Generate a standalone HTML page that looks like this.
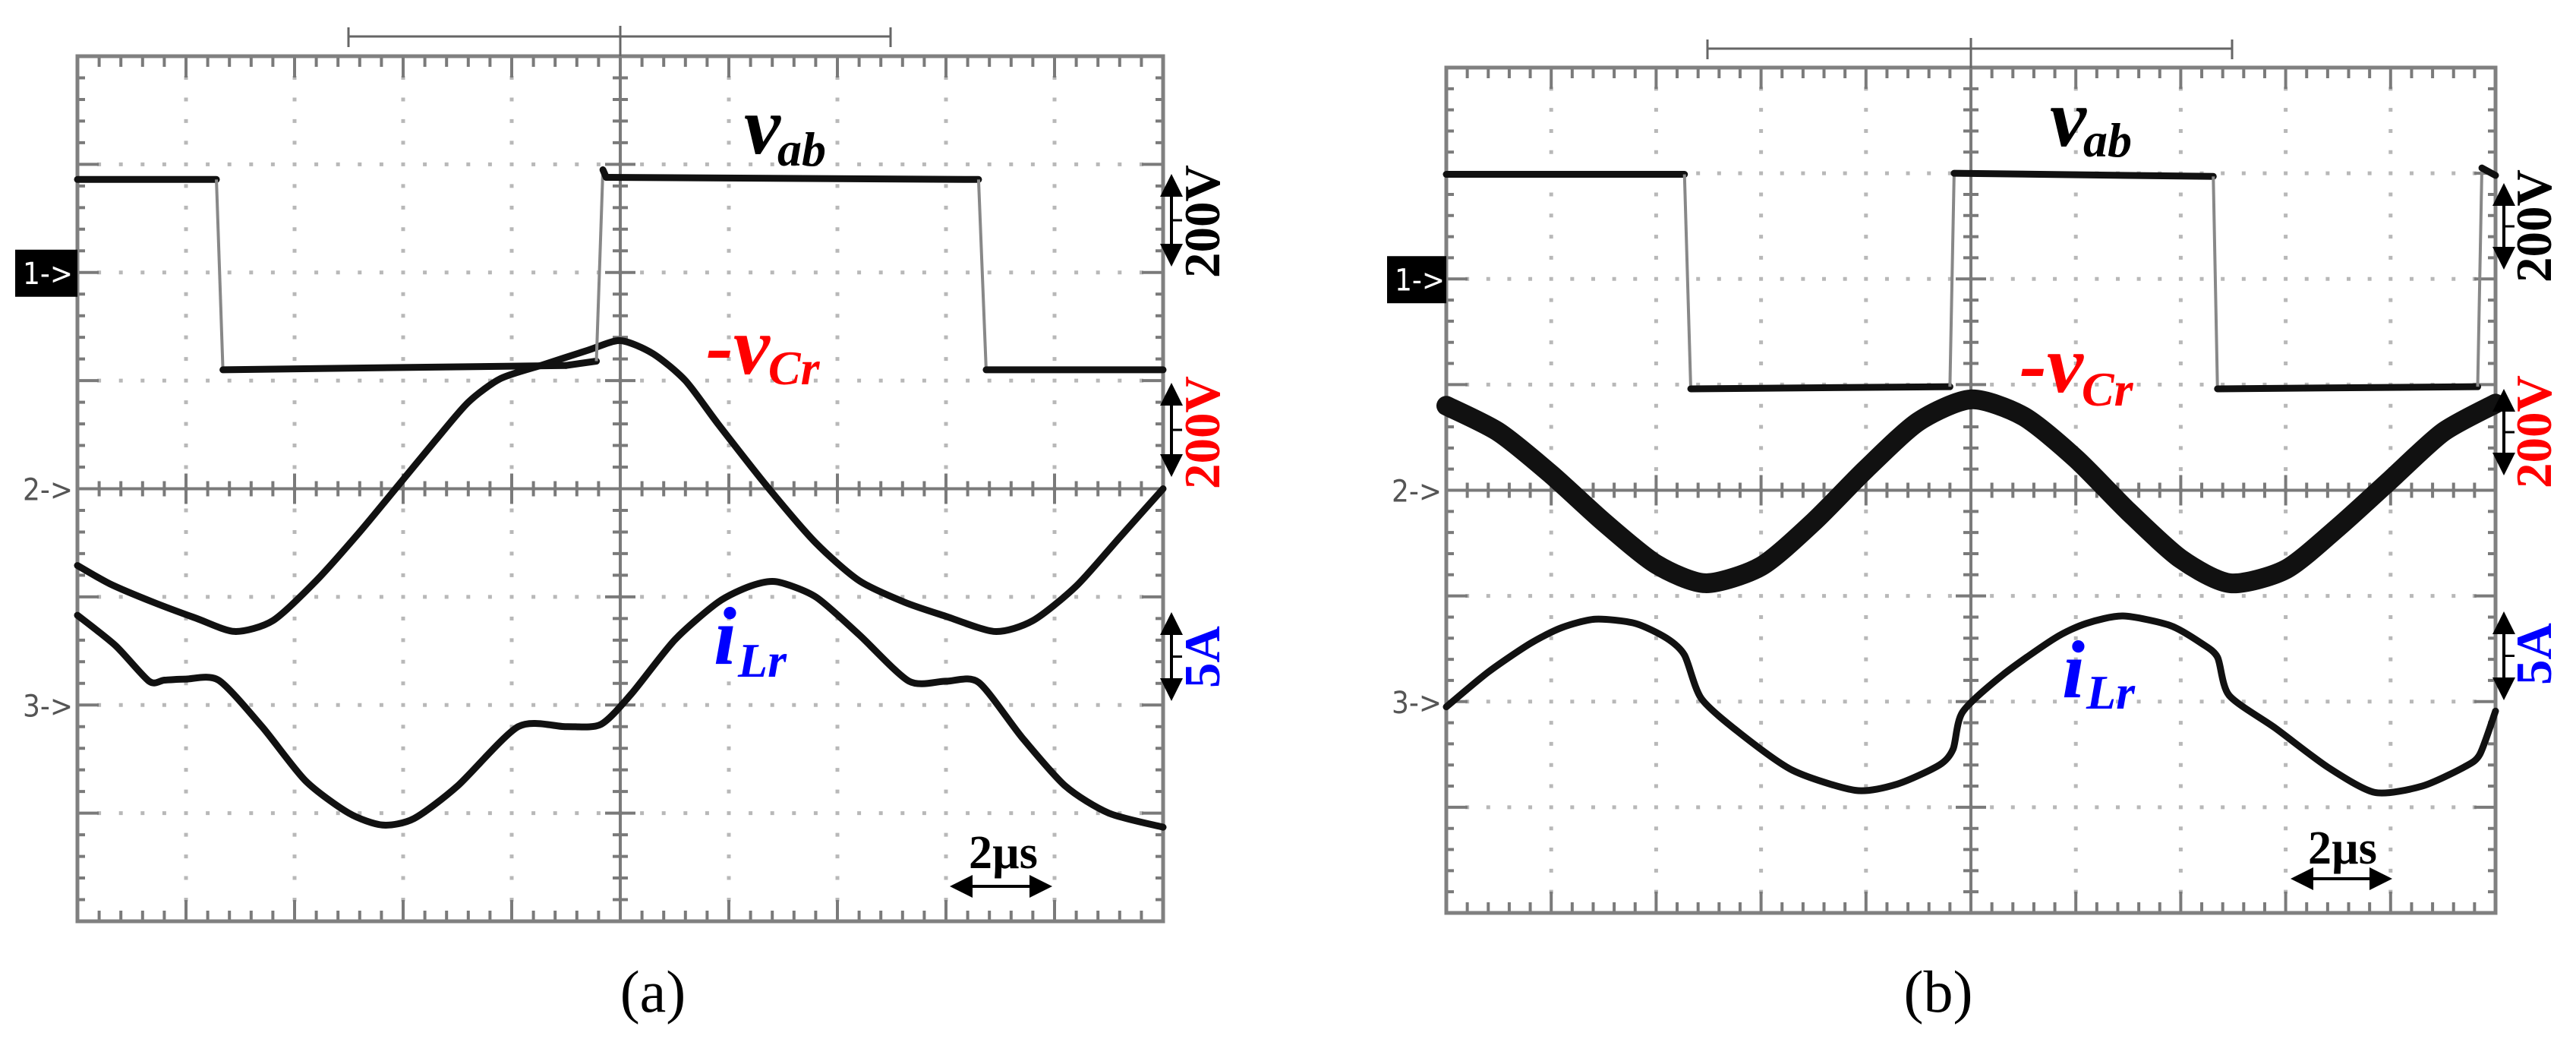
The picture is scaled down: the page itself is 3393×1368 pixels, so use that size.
<!DOCTYPE html>
<html><head><meta charset="utf-8"><style>
html,body{margin:0;padding:0;background:#fff;}
svg{display:block;}
</style></head><body>
<svg id="fig" xmlns="http://www.w3.org/2000/svg" width="3393" height="1368" viewBox="0 0 3393 1368">
<rect width="3393" height="1368" fill="#fff"/>
<g id="layer"></g>
</svg>
<script>
// ---- data (time in divisions 0..10, value in divisions from top 0..8) ----
const vabA_t = [0, 1.28, 1.34, 4.5, 4.78, 4.84, 4.87, 8.30, 8.37, 10];
const vabA_v = [1.14, 1.14, 2.90, 2.86, 2.82, 1.05, 1.12, 1.14, 2.90, 2.90];
const vcrA_t = [0,0.3,0.7,1.1,1.45,1.8,2.2,2.6,2.93,3.3,3.6,3.9,4.3,4.7,5.0,5.3,5.6,5.9,6.37,6.8,7.2,7.62,8.0,8.45,8.8,9.2,9.6,10];
const vcrA_v = [4.71,4.88,5.05,5.2,5.32,5.22,4.85,4.4,4.0,3.55,3.2,2.98,2.85,2.72,2.63,2.75,3.0,3.4,4.0,4.5,4.85,5.05,5.18,5.32,5.22,4.9,4.45,4.0];
const iLrA_t = [0,0.35,0.66,0.8,1.0,1.3,1.7,2.1,2.5,2.81,3.1,3.5,4.06,4.5,4.82,5.1,5.5,5.9,6.2,6.44,6.8,7.2,7.66,8.0,8.3,8.7,9.1,9.5,10];
const iLrA_v = [5.17,5.45,5.78,5.77,5.76,5.77,6.2,6.7,7.0,7.11,7.05,6.75,6.2,6.2,6.18,5.9,5.4,5.05,4.9,4.86,5.0,5.35,5.78,5.78,5.79,6.3,6.75,7.0,7.13];

const vabB_t = [0, 2.27, 2.33, 4.80, 4.84, 7.31, 7.35, 9.83, 9.87, 10];
const vabB_v = [1.01, 1.01, 3.04, 3.02, 1.0, 1.03, 3.04, 3.02, 0.95, 1.02];
const vcrB_t = [0,0.5,1.0,1.5,2.0,2.47,3.0,3.5,4.0,4.5,5.0,5.5,6.0,6.5,7.0,7.47,8.0,8.5,9.0,9.5,10];
const vcrB_v = [3.2,3.45,3.85,4.3,4.7,4.88,4.72,4.3,3.8,3.35,3.14,3.3,3.7,4.2,4.65,4.88,4.75,4.35,3.9,3.45,3.18];
const iLrB_t = [0,0.4,0.8,1.1,1.42,1.8,2.1,2.27,2.43,2.8,3.3,3.9,4.3,4.7,4.83,4.92,5.3,5.8,6.1,6.45,6.9,7.2,7.35,7.46,7.9,8.4,8.85,9.3,9.7,9.85,10];
const iLrB_v = [6.05,5.72,5.45,5.3,5.22,5.26,5.4,5.56,5.97,6.3,6.65,6.84,6.78,6.6,6.45,6.1,5.75,5.4,5.26,5.19,5.28,5.45,5.58,5.94,6.25,6.62,6.86,6.8,6.62,6.5,6.09];

// ---- geometry ----
const A = {x0:102, x1:1532, y0:74, y1:1213};
const B = {x0:1905, x1:3287, y0:89, y1:1202};
const NS = 'http://www.w3.org/2000/svg';
const layer = document.getElementById('layer');
function sx(p,t){return p.x0 + t*(p.x1-p.x0)/10;}
function sy(p,v){return p.y0 + v*(p.y1-p.y0)/8;}
function mk(tag, attrs, parent){const e=document.createElementNS(NS,tag);for(const k in attrs)e.setAttribute(k,attrs[k]);(parent||layer).appendChild(e);return e;}

function grid(p, nm){
  const g = mk('g',{});
  
  
  const dx=(p.x1-p.x0)/10, dy=(p.y1-p.y0)/8;
  let d='';
  for(let i=1;i<10;i++){ if(i===5)continue; const x=p.x0+i*dx;
    for(let k=1;k<40;k++){ const y=p.y0+k*dy/5; d+=`M${x-2.5},${y-2.5}h5v5h-5z`; } }
  for(let j=1;j<8;j++){ if(j===4)continue; const y=p.y0+j*dy;
    for(let k=1;k<50;k++){ const x=p.x0+k*dx/5; d+=`M${x-2.5},${y-2.5}h5v5h-5z`; } }
  mk('path',{d:d,fill:'#b8b8b8'},g);
  let t='';
  for(let k=1;k<50;k++){ const x=p.x0+k*dx/5; const L=(k%5===0)?28:14;
    t+=`M${x},${p.y0}v${L}M${x},${p.y1}v${-L}`; }
  for(let k=1;k<40;k++){ const y=p.y0+k*dy/5; const L=(k%5===0)?28:10;
    t+=`M${p.x0},${y}h${L}M${p.x1},${y}h${-L}`; }
  const cx=p.x0+5*dx, cy=p.y0+4*dy;
  for(let k=1;k<50;k++){ const x=p.x0+k*dx/5; const L=(k%5===0)?20:10; t+=`M${x},${cy-L}v${2*L}`; }
  for(let k=1;k<40;k++){ const y=p.y0+k*dy/5; const L=(k%5===0)?20:10; t+=`M${cx-L},${y}h${2*L}`; }
  t+=`M${cx},${p.y0}V${p.y1}M${p.x0},${cy}H${p.x1}`;
  mk('path',{d:t,stroke:'#7a7a7a','stroke-width':4,fill:'none'},g);
  mk('rect',{x:p.x0,y:p.y0,width:p.x1-p.x0,height:p.y1-p.y0,fill:'none',stroke:'#808080','stroke-width':5},g);
}

function smoothPath(p, ts, vs){
  const pts=ts.map((t,i)=>[sx(p,t),sy(p,vs[i])]);
  let d=`M${pts[0][0]},${pts[0][1]}`;
  for(let i=0;i<pts.length-1;i++){
    const p0=pts[Math.max(0,i-1)],p1=pts[i],p2=pts[i+1],p3=pts[Math.min(pts.length-1,i+2)];
    const c1=[p1[0]+(p2[0]-p0[0])/8,p1[1]+(p2[1]-p0[1])/8];
    const c2=[p2[0]-(p3[0]-p1[0])/8,p2[1]-(p3[1]-p1[1])/8];
    d+=`C${c1[0]},${c1[1]} ${c2[0]},${c2[1]} ${p2[0]},${p2[1]}`;
  }
  return d;
}
function smoothTrace(p, ts, vs, w, nm){
  const e=mk('path',{d:smoothPath(p,ts,vs),stroke:'#111',"stroke-width":w,fill:'none','stroke-linejoin':'round','stroke-linecap':'round'});
  
  
}
function squareTrace(p, ts, vs, nm){
  const g=mk('g',{});
  
  
  for(let i=0;i<ts.length-1;i++){
    const x1=sx(p,ts[i]),y1=sy(p,vs[i]),x2=sx(p,ts[i+1]),y2=sy(p,vs[i+1]);
    const steep=Math.abs(ts[i+1]-ts[i])<0.1 && Math.abs(vs[i+1]-vs[i])>0.5;
    mk('line',{x1:x1,y1:y1,x2:x2,y2:y2,stroke:steep?'#888':'#111','stroke-width':steep?4:9,'stroke-linecap':steep?'butt':'round'},g);
  }
}
function txt(x,y,s,attrs,nm){
  const e=mk('text',Object.assign({x:x,y:y},attrs));
  e.textContent=s;
  
  
  return e;
}
function label(x,y,main,sub,subdx,subdy,color,nm){
  const e=mk('text',{x:x,y:y,fill:color,'font-family':'"Liberation Serif", serif','font-weight':'bold','font-style':'italic','font-size':108});
  
  
  const t1=mk('tspan',{},e); t1.textContent=main;
  const t2=mk('tspan',{dx:subdx,dy:subdy,'font-size':64},e); t2.textContent=sub;
}
function vArrow(x,ya,yb,nm){
  const g=mk('g',{});
  
  
  mk('line',{x1:x,y1:ya+24,x2:x,y2:yb-24,stroke:'#000','stroke-width':4},g);
  mk('path',{d:`M${x},${ya}L${x-15},${ya+30}L${x+15},${ya+30}Z M${x},${yb}L${x-15},${yb-30}L${x+15},${yb-30}Z`,fill:'#000'},g);
  mk('line',{x1:x,y1:(ya+yb)/2,x2:x+14,y2:(ya+yb)/2,stroke:'#000','stroke-width':3},g);
}
function hArrow(xa,xb,y,nm){
  const g=mk('g',{});
  
  
  mk('line',{x1:xa+24,y1:y,x2:xb-24,y2:y,stroke:'#000','stroke-width':4},g);
  mk('path',{d:`M${xa},${y}L${xa+30},${y-15}L${xa+30},${y+15}Z M${xb},${y}L${xb-30},${y-15}L${xb-30},${y+15}Z`,fill:'#000'},g);
}
function rotText(x,yBottom,s,color,nm){
  txt(x,yBottom,s,{fill:color,'font-family':'"Liberation Serif", serif','font-weight':'bold','font-size':67,transform:`rotate(-90 ${x} ${yBottom})`},nm);
}
function bracket(xa,xb,xc,y,nm){
  const g=mk('g',{});
  
  
  mk('path',{d:`M${xa},${y-12}V${y+14}M${xa},${y}H${xb}M${xb},${y-12}V${y+14}M${xc},${y-14}V${y+26}`,stroke:'#666','stroke-width':3,fill:'none'},g);
}
function chMarks(p, nm, boxX){
  const dy=(p.y1-p.y0)/8;
  const y1=p.y0+2*dy;
  const r=mk('rect',{x:boxX,y:y1-30,width:p.x0-boxX,height:62,fill:'#000'});
  
  
  txt(boxX+10,y1+15,'1->',{fill:'#fff','font-family':'"DejaVu Sans Condensed","DejaVu Sans",sans-serif','font-size':40},nm+'-ch1-label');
  txt(p.x0-72,p.y0+4*dy+15,'2->',{fill:'#555','font-family':'"DejaVu Sans Condensed","DejaVu Sans",sans-serif','font-size':40},nm+'-ch2-marker');
  txt(p.x0-72,p.y0+6*dy+15,'3->',{fill:'#555','font-family':'"DejaVu Sans Condensed","DejaVu Sans",sans-serif','font-size':40},nm+'-ch3-marker');
}

// ---- panel a ----
grid(A,'panel-a');
bracket(459,1173,817,48,'panel-a-trigger-bracket');
chMarks(A,'panel-a',20);
smoothTrace(A,vcrA_t,vcrA_v,9,'panel-a-vcr-trace');
smoothTrace(A,iLrA_t,iLrA_v,9,'panel-a-ilr-trace');
squareTrace(A,vabA_t,vabA_v,'panel-a-vab-trace');
label(980,202,'v','ab',-4,16,'#000','panel-a-vab-label');
label(930,492,'-v','Cr',-2,14,'#f00','panel-a-vcr-label');
label(940,874,'i','Lr',2,17,'#00f','panel-a-ilr-label');
vArrow(1543,229,351,'panel-a-ch1-scale-arrow');
vArrow(1543,504,628,'panel-a-ch2-scale-arrow');
vArrow(1543,806,923,'panel-a-ch3-scale-arrow');
rotText(1606,366,'200V','#000','panel-a-ch1-scale');
rotText(1606,644,'200V','#f00','panel-a-ch2-scale');
rotText(1606,906,'5A','#00f','panel-a-ch3-scale');
txt(1276,1143,'2µs',{'font-family':'"Liberation Serif", serif','font-weight':'bold','font-size':62,fill:'#000'},'panel-a-time-scale');
hArrow(1251,1386,1167,'panel-a-time-arrow');
txt(860,1332,'(a)',{'font-family':'"Liberation Serif", serif','font-size':78,'text-anchor':'middle',fill:'#000'},'panel-a-caption');

// ---- panel b ----
grid(B,'panel-b');
bracket(2249,2940,2596,64,'panel-b-trigger-bracket');
chMarks(B,'panel-b',1827);
smoothTrace(B,vcrB_t,vcrB_v,26,'panel-b-vcr-trace');
smoothTrace(B,iLrB_t,iLrB_v,9,'panel-b-ilr-trace');
squareTrace(B,vabB_t,vabB_v,'panel-b-vab-trace');
label(2700,192,'v','ab',-4,14,'#000','panel-b-vab-label');
label(2660,516,'-v','Cr',-2,18,'#f00','panel-b-vcr-label');
label(2716,918,'i','Lr',2,15,'#00f','panel-b-ilr-label');
vArrow(3298,241,355,'panel-b-ch1-scale-arrow');
vArrow(3298,512,626,'panel-b-ch2-scale-arrow');
vArrow(3298,805,922,'panel-b-ch3-scale-arrow');
rotText(3360,372,'200V','#000','panel-b-ch1-scale');
rotText(3360,643,'200V','#f00','panel-b-ch2-scale');
rotText(3360,902,'5A','#00f','panel-b-ch3-scale');
txt(3040,1137,'2µs',{'font-family':'"Liberation Serif", serif','font-weight':'bold','font-size':62,fill:'#000'},'panel-b-time-scale');
hArrow(3017,3151,1157,'panel-b-time-arrow');
txt(2553,1332,'(b)',{'font-family':'"Liberation Serif", serif','font-size':78,'text-anchor':'middle',fill:'#000'},'panel-b-caption');
</script>
</body></html>
